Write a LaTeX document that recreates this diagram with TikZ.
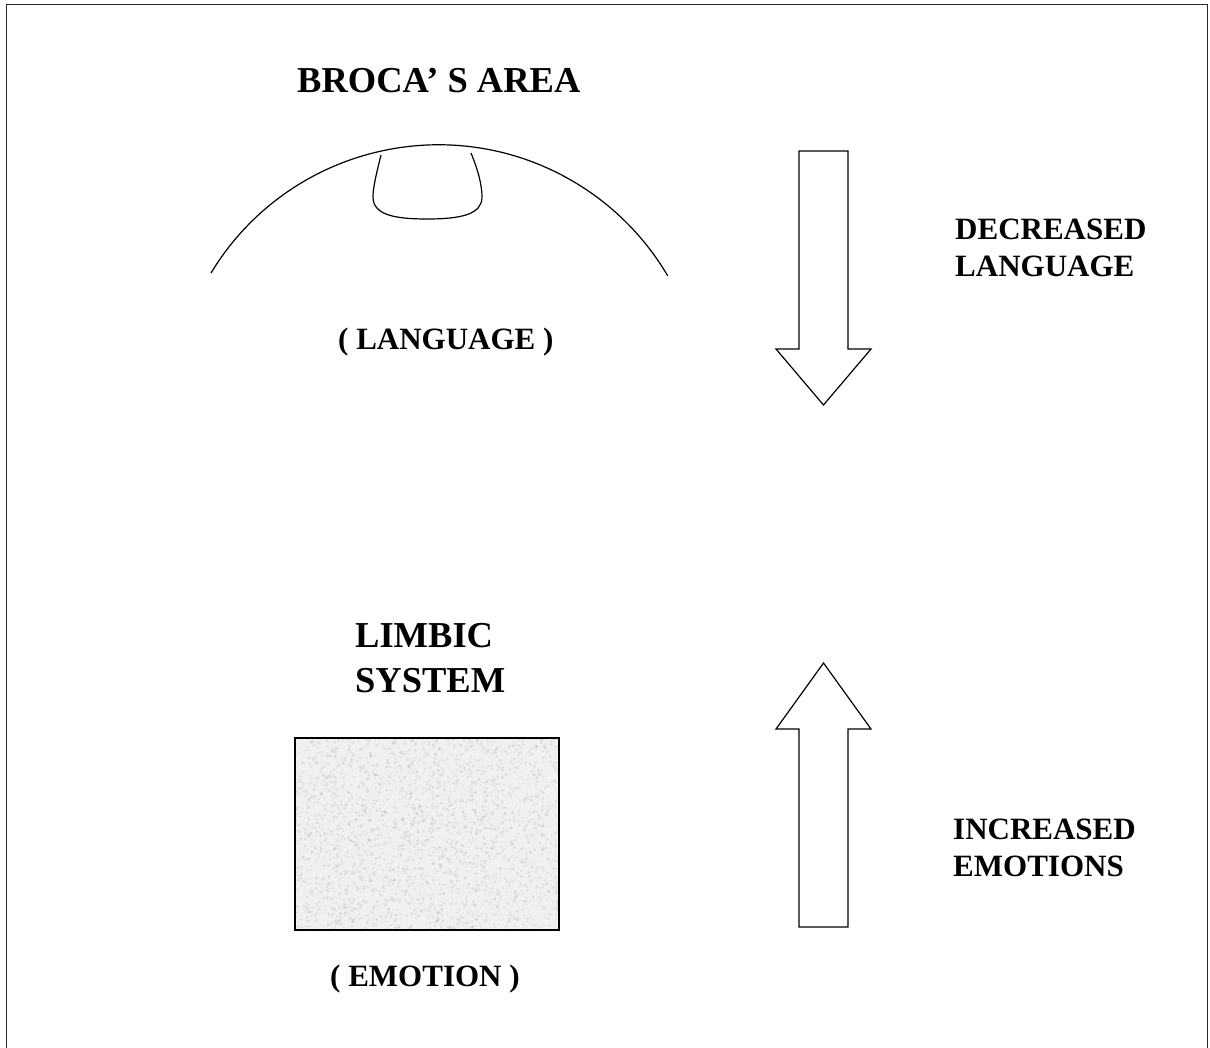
\documentclass[tikz,border=0pt]{standalone}
\usepackage{fontspec}
\setmainfont{Liberation Serif}
\begin{document}
\begin{tikzpicture}[x=1pt,y=1pt]
\tikzset{
  outline/.style={line width=1.2pt, black, line join=miter},
  lbl/.style={inner sep=0pt, anchor=base west, align=left,
              font=\bfseries\fontsize{31}{37}\selectfont},
  biglbl/.style={lbl, font=\bfseries\fontsize{36.5}{45}\selectfont},
  stipple/.style={black, opacity=0.06}
}
\useasboundingbox (0,0) rectangle (1210,-1047);
\clip (0,0) rectangle (1210,-1047);

% page frame (open at the bottom edge)
\draw[line width=1.5pt, black!85] (6.5,-1080) -- (6.5,-4.5) -- (1207.5,-4.5) -- (1207.5,-1080);

% cortex outline with Broca's area
\draw[outline] (211,-273) arc[start angle=148.8, end angle=30.5, radius=266];
\draw[outline] (381,-155) .. controls (376,-175) and (373,-188) .. (373,-197)
  .. controls (373,-215) and (395,-219) .. (427,-219)
  .. controls (462,-219) and (482,-214) .. (482,-197)
  .. controls (482,-185) and (478,-170) .. (471,-153);

% limbic system block with granite texture
\fill[black!6] (295,-738) rectangle (559,-930);
\begin{scope}
  \clip (295,-738) rectangle (559,-930);
  \pgfmathsetseed{7}
  \foreach \i in {1,...,3000}{
    \pgfmathsetmacro\px{295+264*rnd}
    \pgfmathsetmacro\py{-738-192*rnd}
    \pgfmathsetmacro\pr{0.6+1.2*rnd}
    \fill[stipple] (\px,\py) circle[radius=\pr];
  }
\end{scope}
\draw[line width=1.4pt, black] (295,-738) rectangle (559,-930);

% block arrows
\draw[outline] (799,-151) -- (848,-151) -- (848,-349) -- (871,-349) -- (823.5,-405)
  -- (776,-349) -- (799,-349) -- cycle;
\draw[outline] (823.5,-663) -- (871,-729) -- (848,-729) -- (848,-927) -- (799,-927)
  -- (799,-729) -- (776,-729) -- cycle;

% labels (multi-line nodes sit on the baseline of their last line)
\node[biglbl] (broca) at (297,-92) {BROCA’ S AREA};
\node[lbl] (lang) at (338,-349) {( LANGUAGE )};
\node[lbl] (declang) at (955,-276) {DECREASED\\LANGUAGE};
\node[biglbl] (limbic) at (355,-692) {LIMBIC\\SYSTEM};
\node[lbl] (incemo) at (953,-876) {INCREASED\\EMOTIONS};
\node[lbl] (emo) at (330,-986) {( EMOTION )};
\end{tikzpicture}
\end{document}
